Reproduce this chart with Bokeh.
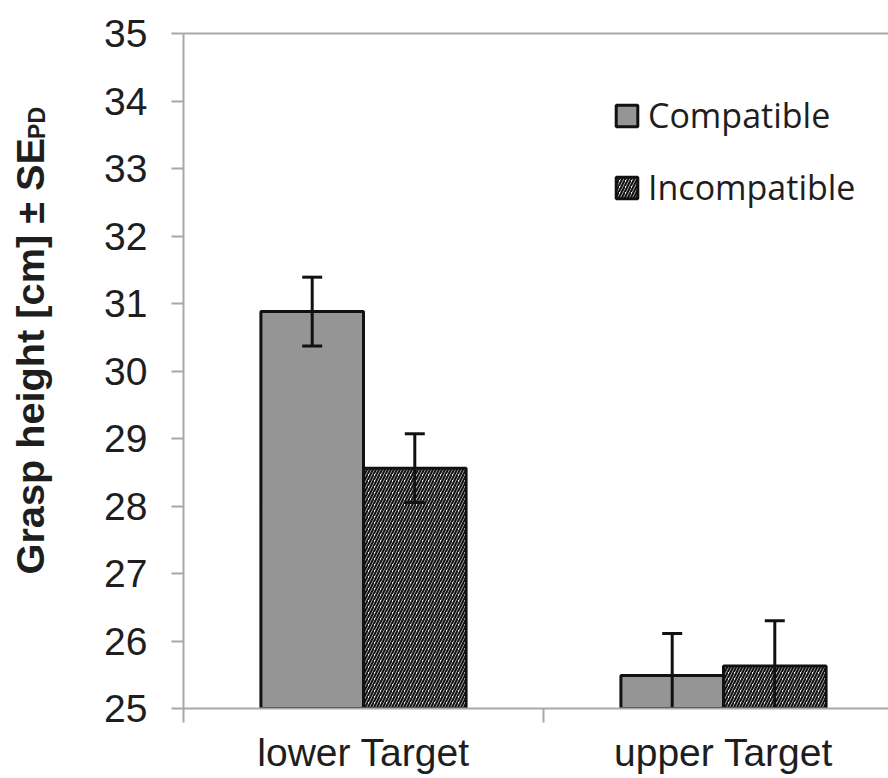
import math
from bokeh.plotting import figure
from bokeh.layouts import row
from bokeh.models import (Range1d, FixedTicker, LinearAxis, Legend, LegendItem,
                          ColumnDataSource)
from bokeh.embed import file_html
from bokeh.resources import INLINE

# ---- data ----
categories = ["lower Target", "upper Target"]
series_names = ["Compatible", "Incompatible"]
compatible_mean = [30.88, 25.49]
compatible_se = [0.51, 0.62]
incompatible_mean = [28.56, 25.63]
incompatible_se = [0.51, 0.67]
y_ticks = [25, 26, 27, 28, 29, 30, 31, 32, 33, 34, 35]
y_min, y_max = 25, 35
y_title = "Grasp height [cm] ± SE"
y_title_sub = "PD"

# ---- layout constants ----
W, H = 888, 778
TITLE_W = 62
LEFT, TOP, BOTTOM = 183, 33, 70
cat_px = 360.0
frame_w = W - LEFT
bar_w = 0.285
cap_half = 10.0 / cat_px

AXIS_GREY = "#a8a8a8"
TEXT = "#1e1e1e"

# ---- left strip holding the rotated axis title ----
lp = figure(width=TITLE_W, height=H, output_backend="svg", toolbar_location=None,
            x_range=Range1d(0, TITLE_W), y_range=Range1d(H, 0),
            min_border=0, x_axis_type=None, y_axis_type=None)
lp.outline_line_color = None
lp.xgrid.visible = False
lp.ygrid.visible = False
lp.text(x=[29], y=[623.5], text=[y_title], angle=math.pi / 2,
        text_font={"value": "Liberation Sans"}, text_font_style="bold",
        text_font_size="39.7px", text_color=TEXT,
        text_align="left", text_baseline="alphabetic")
lp.text(x=[36], y=[121.5], text=[y_title_sub], angle=math.pi / 2,
        text_font={"value": "Liberation Sans"}, text_font_style="bold",
        text_font_size="23px", text_color=TEXT,
        text_align="left", text_baseline="alphabetic")

# ---- main chart ----
p = figure(width=W - TITLE_W, height=H, output_backend="svg", toolbar_location=None,
           x_range=Range1d(0, frame_w / cat_px), y_range=Range1d(y_min, y_max),
           min_border_left=LEFT - TITLE_W, min_border_right=0, min_border_top=TOP,
           min_border_bottom=BOTTOM, x_axis_type=None, y_axis_type=None)
p.outline_line_color = None
p.xgrid.visible = False
p.ygrid.visible = False
p.background_fill_color = "white"
p.border_fill_color = "white"

centers = [i + 0.5 for i in range(len(categories))]
x_comp = [c - bar_w / 2 for c in centers]
x_inc = [c + bar_w / 2 for c in centers]

src_c = ColumnDataSource(dict(x=x_comp, top=compatible_mean,
                              lo=[m - s for m, s in zip(compatible_mean, compatible_se)],
                              hi=[m + s for m, s in zip(compatible_mean, compatible_se)]))
src_i = ColumnDataSource(dict(x=x_inc, top=incompatible_mean,
                              lo=[m - s for m, s in zip(incompatible_mean, incompatible_se)],
                              hi=[m + s for m, s in zip(incompatible_mean, incompatible_se)]))

r_c = p.vbar(x="x", top="top", bottom=y_min, width=bar_w, source=src_c,
             fill_color="#959595", line_color="#111111", line_width=3)
r_i = p.vbar(x="x", top="top", bottom=y_min, width=bar_w, source=src_i,
             fill_color="white", line_color="#111111", line_width=3,
             hatch_pattern="/", hatch_color="#141414", hatch_scale=6, hatch_weight=2.2)

for src in (src_c, src_i):
    d = src.data
    p.segment(x0="x", x1="x", y0="lo", y1="hi", source=src, line_color="#111111", line_width=3)
    p.segment(x0=[x - cap_half for x in d["x"]], x1=[x + cap_half for x in d["x"]],
              y0=d["hi"], y1=d["hi"], line_color="#111111", line_width=3)
    p.segment(x0=[x - cap_half for x in d["x"]], x1=[x + cap_half for x in d["x"]],
              y0=d["lo"], y1=d["lo"], line_color="#111111", line_width=3)

# y axis
yax = LinearAxis(ticker=FixedTicker(ticks=y_ticks, minor_ticks=[]))
yax.axis_line_color = AXIS_GREY
yax.axis_line_width = 2
yax.major_tick_line_color = AXIS_GREY
yax.major_tick_line_width = 2
yax.major_tick_in = 0
yax.major_tick_out = 12
yax.minor_tick_line_color = None
yax.major_label_standoff = 24
yax.major_label_text_font = "Liberation Sans"
yax.major_label_text_font_size = "39px"
yax.major_label_text_color = TEXT
p.add_layout(yax, "left")

# x axis
xax = LinearAxis(ticker=FixedTicker(ticks=centers, minor_ticks=[0, 1, 2]))
xax.major_label_overrides = {c: n for c, n in zip(centers, categories)}
xax.axis_line_color = AXIS_GREY
xax.axis_line_width = 2
xax.major_tick_line_color = None
xax.minor_tick_line_color = AXIS_GREY
xax.minor_tick_line_width = 2
xax.minor_tick_in = 0
xax.minor_tick_out = 14
xax.major_tick_in = 0
xax.major_tick_out = 0
xax.major_label_standoff = 8
xax.major_label_text_font = "Liberation Sans"
xax.major_label_text_font_size = "39px"
xax.major_label_text_color = TEXT
p.add_layout(xax, "below")

# top border line
tax = LinearAxis(ticker=FixedTicker(ticks=[]))
tax.axis_line_color = AXIS_GREY
tax.axis_line_width = 2
tax.major_label_text_font_size = "0px"
tax.major_tick_line_color = None
tax.minor_tick_line_color = None
p.add_layout(tax, "above")

# legend
legend = Legend(items=[LegendItem(label=series_names[0], renderers=[r_c]),
                       LegendItem(label=series_names[1], renderers=[r_i])],
                location=(430, 498), orientation="vertical")
legend.background_fill_alpha = 0
legend.border_line_color = None
legend.padding = 0
legend.margin = 0
legend.spacing = 26
legend.glyph_width = 27
legend.glyph_height = 27
legend.label_standoff = 8
legend.label_text_font = "Open Sans"
legend.label_text_font_size = "34px"
legend.label_text_color = TEXT
p.add_layout(legend, "center")

layout = row(lp, p, spacing=0)
open("out.html", "w").write(file_html(layout, INLINE))
